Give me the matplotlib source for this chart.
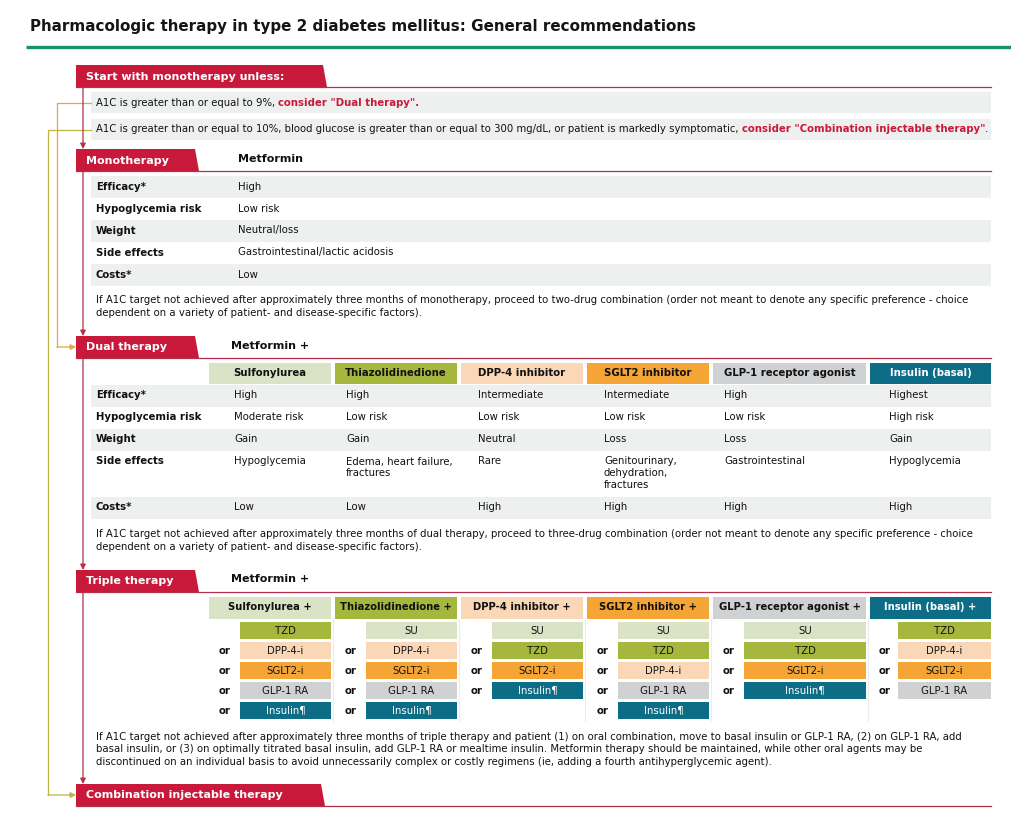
"""Pharmacologic therapy in type 2 diabetes: general recommendations chart."""

import matplotlib

matplotlib.use("Agg")
import matplotlib.pyplot as plt
from matplotlib.patches import Polygon, Rectangle

# ---- content -------------------------------------------------------------
TITLE = "Pharmacologic therapy in type 2 diabetes mellitus: General recommendations"

unless_header = "Start with monotherapy unless:"
unless_lines = [
    [("A1C is greater than or equal to 9%, ", False, "k"),
     ('consider "Dual therapy".', True, "r")],
    [("A1C is greater than or equal to 10%, blood glucose is greater than or equal "
      "to 300 mg/dL, or patient is markedly symptomatic, ", False, "k"),
     ('consider "Combination injectable therapy"', True, "r"),
     (".", False, "k")],
]

row_labels = ["Efficacy*", "Hypoglycemia risk", "Weight", "Side effects", "Costs*"]
mono_drug = "Metformin"
mono_values = ["High", "Low risk", "Neutral/loss", "Gastrointestinal/lactic acidosis", "Low"]
mono_note = [
    "If A1C target not achieved after approximately three months of monotherapy, proceed "
    "to two-drug combination (order not meant to denote any specific preference - choice",
    "dependent on a variety of patient- and disease-specific factors).",
]

dual_classes = ["Sulfonylurea", "Thiazolidinedione", "DPP-4 inhibitor",
                "SGLT2 inhibitor", "GLP-1 receptor agonist", "Insulin (basal)"]
class_colors = ["#dae3c6", "#a6b73d", "#fad8b7", "#f5a535", "#d0d1d3", "#0d6d87"]
class_text = ["k", "k", "k", "k", "k", "w"]
dual_efficacy = ["High", "High", "Intermediate", "Intermediate", "High", "Highest"]
dual_hypo = ["Moderate risk", "Low risk", "Low risk", "Low risk", "Low risk", "High risk"]
dual_weight = ["Gain", "Gain", "Neutral", "Loss", "Loss", "Gain"]
dual_side = [["Hypoglycemia"], ["Edema, heart failure,", "fractures"], ["Rare"],
             ["Genitourinary,", "dehydration,", "fractures"], ["Gastrointestinal"],
             ["Hypoglycemia"]]
dual_costs = ["Low", "Low", "High", "High", "High", "High"]
dual_note = [
    "If A1C target not achieved after approximately three months of dual therapy, proceed "
    "to three-drug combination (order not meant to denote any specific preference - choice",
    "dependent on a variety of patient- and disease-specific factors).",
]

abbrev = ["SU", "TZD", "DPP-4-i", "SGLT2-i", "GLP-1 RA", "Insulin\u00b6"]
triple_options = [
    ["TZD", "DPP-4-i", "SGLT2-i", "GLP-1 RA", "Insulin\u00b6"],
    ["SU", "DPP-4-i", "SGLT2-i", "GLP-1 RA", "Insulin\u00b6"],
    ["SU", "TZD", "SGLT2-i", "Insulin\u00b6"],
    ["SU", "TZD", "DPP-4-i", "GLP-1 RA", "Insulin\u00b6"],
    ["SU", "TZD", "SGLT2-i", "Insulin\u00b6"],
    ["TZD", "DPP-4-i", "SGLT2-i", "GLP-1 RA"],
]
triple_note = [
    "If A1C target not achieved after approximately three months of triple therapy and "
    "patient (1) on oral combination, move to basal insulin or GLP-1 RA, (2) on GLP-1 RA, add",
    "basal insulin, or (3) on optimally titrated basal insulin, add GLP-1 RA or mealtime "
    "insulin. Metformin therapy should be maintained, while other oral agents may be",
    "discontinued on an individual basis to avoid unnecessarily complex or costly regimens "
    "(ie, adding a fourth antihyperglycemic agent).",
]
combo_header = "Combination injectable therapy"

# ---- style / layout --------------------------------------------------------
RED = "#c8193b"
LINE_RED = "#b3304c"
GRAY = "#eef0ef"
GOLD1 = "#e3a640"
GOLD2 = "#bcb343"
FS = 7.3
FS_HEAD = 8.0
FONT = "DejaVu Sans"

col_left = [209, 335, 461, 587, 713, 870]
col_right = [331, 457, 583, 709, 866, 991]
val_x = [234, 346, 478, 604, 724, 889]
sub_left = [240, 366, 492, 618, 744, 898]
or_x = [225, 351, 477, 603, 729, 885]

W, H = 1012, 819
fig = plt.figure(figsize=(W / 100, H / 100), dpi=100)
ax = fig.add_axes([0, 0, 1, 1])
ax.set_xlim(0, W)
ax.set_ylim(H, 0)
ax.axis("off")
renderer = fig.canvas.get_renderer()


def txt(x, y, s, bold=False, color="#111111", size=FS, ha="left"):
    return ax.text(x, y, s, fontsize=size, fontweight="bold" if bold else "normal",
                   color=color, ha=ha, va="center", family=FONT)


def text_width(s, bold=False, size=FS):
    # measure with a bar appended so trailing spaces count
    a = ax.text(0, 0, s + "|", fontsize=size, fontweight="bold" if bold else "normal",
                family=FONT)
    b = ax.text(0, 0, "|", fontsize=size, fontweight="bold" if bold else "normal",
                family=FONT)
    w = a.get_window_extent(renderer).width - b.get_window_extent(renderer).width
    a.remove()
    b.remove()
    return w


def banner(y0, label, right, slant=4, h=22):
    ax.add_patch(Polygon([(76, y0), (right, y0), (right + slant, y0 + h), (76, y0 + h)],
                         closed=True, facecolor=RED, edgecolor="none"))
    ax.plot([76, 991], [y0 + h, y0 + h], color=LINE_RED, lw=0.9)
    txt(86, y0 + h / 2 + 0.5, label, bold=True, color="white", size=FS_HEAD)


def band(y0, y1, x0=91, x1=991):
    ax.add_patch(Rectangle((x0, y0), x1 - x0, y1 - y0, facecolor=GRAY, edgecolor="none"))


def down_arrow(y0, y1, x=83):
    ax.annotate("", xy=(x, y1), xytext=(x, y0),
                arrowprops=dict(arrowstyle="-|>", color=LINE_RED, lw=0.9,
                                mutation_scale=8, shrinkA=0, shrinkB=0))


def elbow(y_from, x_turn, y_to, color):
    ax.plot([91, x_turn, x_turn], [y_from, y_from, y_to], color=color, lw=0.9)
    ax.annotate("", xy=(76, y_to), xytext=(x_turn, y_to),
                arrowprops=dict(arrowstyle="-|>", color=color, lw=0.9,
                                mutation_scale=8, shrinkA=0, shrinkB=0))


# title and green rule
txt(30, 27, TITLE, bold=True, color="#151515", size=10.9)
ax.plot([26, W], [46.5, 46.5], color="#16935f", lw=2.4, solid_capstyle="butt")

# ---- start with monotherapy unless -----------------------------------------
banner(65, unless_header, 323)
for i, segs in enumerate(unless_lines):
    y0 = 92 + i * 27
    band(y0, y0 + 21)
    x = 96
    for s, bold, c in segs:
        txt(x, y0 + 10.5, s, bold=bold, color=RED if c == "r" else "#111111")
        x += text_width(s, bold)

# connectors
elbow(102.5, 57, 347, GOLD1)
elbow(129.5, 48, 795, GOLD2)
down_arrow(87, 149)

# ---- monotherapy -----------------------------------------------------------
banner(149, "Monotherapy", 195)
txt(238, 159, mono_drug, bold=True, size=FS_HEAD)
for i, (lab, val) in enumerate(zip(row_labels, mono_values)):
    y0 = 176 + 22 * i
    if i % 2 == 0:
        band(y0, y0 + 21.5)
    txt(96, y0 + 10.5, lab, bold=True)
    txt(238, y0 + 10.5, val)
for i, line in enumerate(mono_note):
    txt(96, 300 + 13 * i, line)
down_arrow(171, 336)

# ---- dual therapy ----------------------------------------------------------
banner(336, "Dual therapy", 195)
txt(231, 346, "Metformin +", bold=True, size=FS_HEAD)
for j, name in enumerate(dual_classes):
    ax.add_patch(Rectangle((col_left[j], 363), col_right[j] - col_left[j], 21,
                           facecolor=class_colors[j], edgecolor="none"))
    txt((col_left[j] + col_right[j]) / 2, 373.5, name, bold=True,
        color="white" if class_text[j] == "w" else "#111111", ha="center")

dual_rows = [dual_efficacy, dual_hypo, dual_weight, dual_side, dual_costs]
row_y = [385, 407, 429, 451, 497]
row_h = [21.5, 21.5, 21.5, 46, 21.5]
for i, (lab, vals) in enumerate(zip(row_labels, dual_rows)):
    y0 = row_y[i]
    if i % 2 == 0:
        band(y0, y0 + row_h[i])
    txt(96, y0 + 10.5, lab, bold=True)
    for j, v in enumerate(vals):
        lines = v if isinstance(v, list) else [v]
        for k, line in enumerate(lines):
            txt(val_x[j], y0 + 10.5 + 12 * k, line)
for i, line in enumerate(dual_note):
    txt(96, 534 + 13 * i, line)
down_arrow(358, 570)

# ---- triple therapy --------------------------------------------------------
banner(570, "Triple therapy", 195)
txt(231, 579, "Metformin +", bold=True, size=FS_HEAD)
abbr_color = dict(zip(abbrev, class_colors))
for j, name in enumerate(dual_classes):
    ax.add_patch(Rectangle((col_left[j], 597), col_right[j] - col_left[j], 22,
                           facecolor=class_colors[j], edgecolor="none"))
    txt((col_left[j] + col_right[j]) / 2, 607.5, name + " +", bold=True,
        color="white" if class_text[j] == "w" else "#111111", ha="center", size=7.2)
    if j > 0:
        xs = col_left[j] - 2
        ax.plot([xs, xs], [619, 721], color="#ececec", lw=0.8)
    for k, opt in enumerate(triple_options[j]):
        y0 = 622 + 20 * k
        ax.add_patch(Rectangle((sub_left[j], y0), col_right[j] - sub_left[j], 17,
                               facecolor=abbr_color[opt], edgecolor="none"))
        txt((sub_left[j] + col_right[j]) / 2, y0 + 8.5, opt,
            color="white" if opt.startswith("Insulin") else "#111111", ha="center")
        if k > 0:
            txt(or_x[j], y0 + 8.5, "or", bold=True, ha="center")
for i, line in enumerate(triple_note):
    txt(96, 737 + 12.5 * i, line)
down_arrow(592, 784)

# ---- combination injectable ------------------------------------------------
banner(784, combo_header, 321)

fig.savefig("out.png", dpi=100)
plt.close(fig)
